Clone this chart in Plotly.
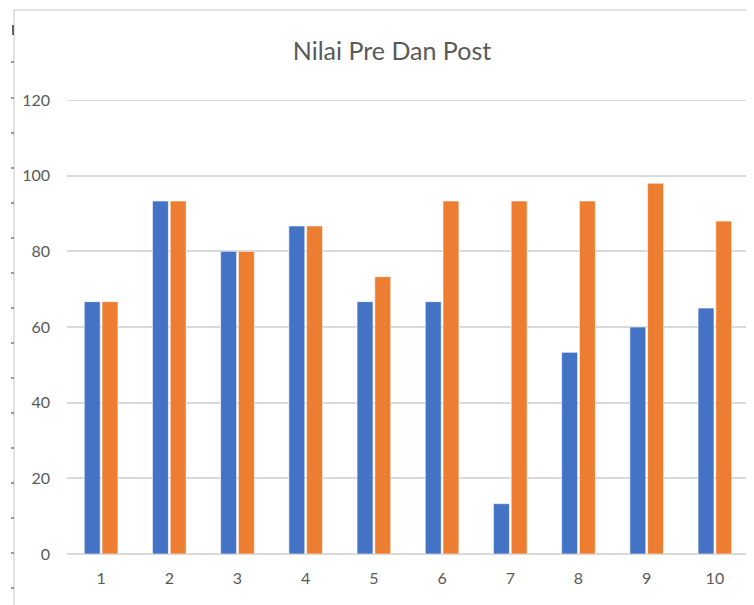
import plotly.graph_objects as go

categories = ["1", "2", "3", "4", "5", "6", "7", "8", "9", "10"]
pre_values = [66.7, 93.3, 80, 86.7, 66.7, 66.7, 13.3, 53.3, 60, 65]
post_values = [66.7, 93.3, 80, 86.7, 73.3, 93.3, 93.3, 93.3, 98, 88]
y_ticks = [0, 20, 40, 60, 80, 100, 120]

fig = go.Figure()
fig.add_trace(go.Bar(x=categories, y=pre_values, name="Pre",
                     marker=dict(color="#4472C4", line=dict(color="#ffffff", width=0.6))))
fig.add_trace(go.Bar(x=categories, y=post_values, name="Post",
                     marker=dict(color="#ED7D31", line=dict(color="#ffffff", width=0.6))))

OFF = 8  # page body margin
W, H = 754 - OFF, 605 - OFF
L, R, T, B = 67 - OFF, 5, 100 - OFF, 51
pw, ph = W - L - R, H - T - B

def px(x):
    return (x - OFF - L) / pw

def py(y):
    return (H - B - (y - OFF)) / ph

shapes = [
    dict(type="line", xref="paper", yref="paper", x0=px(14), x1=px(14), y0=py(10), y1=py(605),
         line=dict(color="#d9d9d9", width=1.5)),
    dict(type="line", xref="paper", yref="paper", x0=px(14), x1=px(754), y0=py(10), y1=py(10),
         line=dict(color="#d9d9d9", width=1.5)),
    dict(type="line", xref="paper", yref="y", x0=0, x1=1, y0=120, y1=120,
         line=dict(color="#d9d9d9", width=2), layer="below"),
]
for yy in [62, 98, 133, 168, 203, 238, 273, 308, 343, 378, 413, 448, 483, 518, 553, 588]:
    shapes.append(dict(type="line", xref="paper", yref="paper", x0=px(11), x1=px(14),
                       y0=py(yy), y1=py(yy), line=dict(color="#404040", width=1)))
shapes.append(dict(type="line", xref="paper", yref="paper", x0=px(13), x1=px(13),
                   y0=py(25), y1=py(35), line=dict(color="#333333", width=1.5)))

fig.update_layout(
    width=W, height=H,
    margin=dict(l=L, r=R, t=T, b=B),
    paper_bgcolor="white", plot_bgcolor="white",
    barmode="group", bargap=0.48, bargroupgap=0.1,
    showlegend=False,
    font=dict(family="Lato, Open Sans, sans-serif", color="#595959", size=14),
    title=dict(text="Nilai Pre Dan Post", x=(392 - OFF) / W, xref="container", xanchor="center",
               y=1 - (51 - OFF) / H, yanchor="middle",
               font=dict(size=25, color="#595959", family="Lato, Open Sans, sans-serif")),
    xaxis=dict(showgrid=False, showline=False, ticks="", tickfont=dict(size=16, color="#595959"),
               ticklabelstandoff=13),
    yaxis=dict(range=[0, 120], tickvals=y_ticks, showgrid=True, gridcolor="#d9d9d9", gridwidth=2,
               zeroline=True, zerolinecolor="#d9d9d9", zerolinewidth=2, showline=False, ticks="",
               tickfont=dict(size=16, color="#595959"), ticklabelstandoff=16),
    shapes=shapes,
)

fig.write_html("out.html")
